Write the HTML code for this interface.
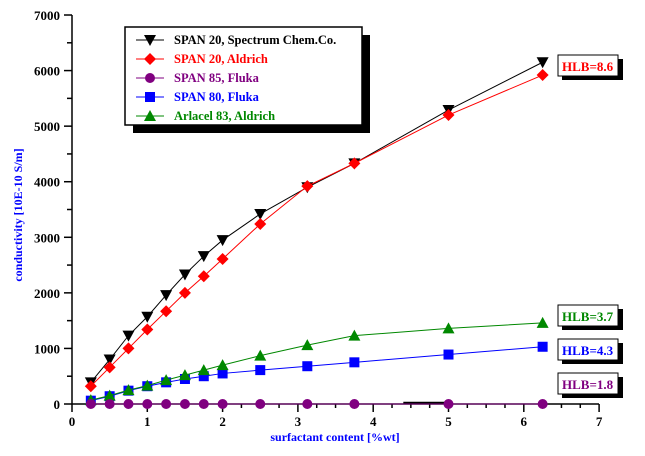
<!DOCTYPE html>
<html><head><meta charset="utf-8"><style>
body{margin:0;background:#fff}
svg{display:block}
text{font-family:"Liberation Serif",serif;font-weight:bold}
</style></head><body>
<svg id="s" width="645" height="456" xmlns="http://www.w3.org/2000/svg">
<rect width="645" height="456" fill="#fff"/>
<g id="ax" stroke="#000" stroke-width="1.5" fill="none"></g>
<g id="ser"></g>
<!-- legend -->
<rect x="133" y="35" width="237" height="98" fill="#000"/>
<rect x="125" y="27" width="237" height="98" fill="#fff" stroke="#000" stroke-width="1.5"/>
<g id="leg"></g>
<!-- HLB boxes -->
<g font-size="13">
<rect x="562" y="59" width="61" height="21" fill="#000"/><rect x="558" y="55" width="60" height="21" fill="#fff" stroke="#000"/><text x="562" y="71" fill="#f00">HLB=8.6</text>
<rect x="562" y="309" width="61" height="21" fill="#000"/><rect x="558" y="305" width="60" height="21" fill="#fff" stroke="#000"/><text x="562" y="321" fill="#080">HLB=3.7</text>
<rect x="562" y="343" width="61" height="21" fill="#000"/><rect x="558" y="339" width="60" height="21" fill="#fff" stroke="#000"/><text x="562" y="355" fill="#00f">HLB=4.3</text>
<rect x="562" y="377" width="61" height="21" fill="#000"/><rect x="558" y="373" width="60" height="21" fill="#fff" stroke="#000"/><text x="562" y="389" fill="#800080">HLB=1.8</text>
</g>
<text x="335" y="441" font-size="12" fill="#00f" text-anchor="middle">surfactant content [%wt]</text>
<text transform="translate(22,215) rotate(-90)" font-size="12" fill="#00f" text-anchor="middle">conductivity [10E-10 S/m]</text>
</svg>
<script>
const NS="http://www.w3.org/2000/svg";
const X=v=>72+v*75.3, Y=v=>404-v*0.05557;
function el(p,t,a){const e=document.createElementNS(NS,t);for(const k in a)e.setAttribute(k,a[k]);p.appendChild(e);return e;}
const ax=document.getElementById('ax'),s=document.getElementById('s');
el(ax,'line',{x1:72,y1:15,x2:72,y2:404});el(ax,'line',{x1:72,y1:404,x2:599,y2:404});
for(let v=0;v<=7000;v+=500){const y=Y(v);el(ax,'line',{x1:v%1000?67:64,y1:y,x2:72,y2:y});
 if(v%1000==0){const t=el(s,'text',{x:60,y:y+5,'font-size':13,'text-anchor':'end'});t.textContent=v;}}
for(let v=0;v<=7.001;v+=0.25){const x=X(v);el(ax,'line',{x1:x,y1:404,x2:x,y2:Number.isInteger(v)?412:408});
 if(Number.isInteger(v)){const t=el(s,'text',{x:x,y:426,'font-size':13,'text-anchor':'middle'});t.textContent=v;}}
const xs=[.25,.5,.75,1,1.25,1.5,1.75,2,2.5,3.125,3.75,5,6.25];
const S=[
 ['#000','tri_d',[390,800,1230,1570,1960,2330,2660,2950,3420,3900,4330,5290,6150],'SPAN 20, Spectrum Chem.Co.'],
 ['#f00','dia',[320,660,1000,1340,1670,2000,2300,2610,3240,3920,4330,5200,5920],'SPAN 20, Aldrich'],
 ['#800080','circ',[0,0,0,0,0,0,0,0,0,0,0,0,0],'SPAN 85, Fluka'],
 ['#00f','sq',[60,140,240,320,390,450,500,550,610,680,750,890,1030],'SPAN 80, Fluka'],
 ['#080','tri_u',[70,150,250,330,430,520,610,700,870,1060,1230,1360,1460],'Arlacel 83, Aldrich']];
function mk(g,type,x,y,c){
 if(type=='tri_d')el(g,'polygon',{points:`${x-6},${y-5} ${x+6},${y-5} ${x},${y+6}`,fill:c});
 if(type=='tri_u')el(g,'polygon',{points:`${x-6},${y+5} ${x+6},${y+5} ${x},${y-6}`,fill:c});
 if(type=='dia')el(g,'polygon',{points:`${x},${y-6} ${x+6},${y} ${x},${y+6} ${x-6},${y}`,fill:c});
 if(type=='circ')el(g,'circle',{cx:x,cy:y,r:5,fill:c});
 if(type=='sq')el(g,'rect',{x:x-5,y:y-5,width:10,height:10,fill:c});
}
const g=document.getElementById('ser');
el(g,'line',{x1:X(4.4),y1:403,x2:X(5),y2:403,stroke:'#000','stroke-width':2.5});
[3,4,2,0,1].forEach(i=>{const [c,t,d]=S[i];
 el(g,'polyline',{points:xs.map((x,j)=>X(x)+','+Y(d[j])).join(' '),fill:'none',stroke:c,'stroke-width':1});
 xs.forEach((x,j)=>mk(g,t,X(x),Y(d[j]),c));});
const L=document.getElementById('leg');
S.forEach(([c,t,d,n],i)=>{const y=40+i*19;
 el(L,'line',{x1:136,y1:y,x2:164,y2:y,stroke:c});mk(L,t,150,y,c);
 const tx=el(L,'text',{x:174,y:y+4,'font-size':12.5,fill:c});tx.textContent=n;});
</script>
</body></html>
